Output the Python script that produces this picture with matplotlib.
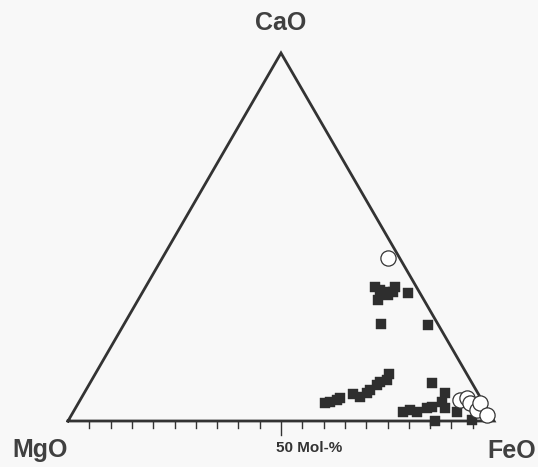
import numpy as np
import matplotlib
matplotlib.use("Agg")
import matplotlib.pyplot as plt

# mol-% values (CaO, FeO); MgO is the rest
sq_cao = [36.4, 35.6, 35.1, 32.9, 34.2, 36.4, 35.1, 34.8, 26.4, 26.1,
          4.9, 5.2, 5.7, 6.3, 7.3, 6.5, 7.6, 8.4, 9.8, 10.6, 11.1, 12.8,
          10.3, 2.4, 3.0, 2.4, 3.5, 3.8, 5.2, 7.6, 3.5, 0.0, 2.4, 0.3]
sq_feo = [53.9, 55.4, 56.9, 56.4, 58.0, 58.6, 58.8, 62.4, 60.3, 71.5,
          57.9, 58.9, 60.2, 60.7, 63.2, 65.2, 66.4, 66.7, 67.6, 67.9, 69.3, 69.0,
          80.2, 77.4, 78.8, 80.7, 82.5, 83.5, 85.2, 84.7, 86.7, 86.2, 90.1, 94.7]

ci_cao = [44.3, 5.7, 6.3, 4.9, 3.0, 4.9, 1.6]
ci_feo = [53.0, 89.1, 90.6, 92.0, 94.5, 94.3, 97.6]

corner_labels = ["MgO", "FeO", "CaO"]
tick_vals = np.arange(5, 100, 5)

H = np.sqrt(3) / 2


def to_xy(cao, feo):
    cao = np.asarray(cao)
    feo = np.asarray(feo)
    return feo + cao / 2, cao * H


fig = plt.figure(figsize=(5.38, 4.67), dpi=100)
fig.patch.set_facecolor("#f8f8f8")
ax = fig.add_axes([68 / 538, 46 / 467, 426 / 538, 368 / 467])
ax.set_xlim(0, 100)
ax.set_ylim(0, 100 * H)
ax.axis("off")

col = "#333333"
# triangle
tx, ty = to_xy([0, 0, 100, 0], [0, 100, 0, 0])
ax.plot(tx, ty, color=col, lw=2.0, solid_joinstyle="miter", clip_on=False)

# ticks on the MgO-FeO base
for t in tick_vals:
    ln = 3.3 if t == 50 else 1.6
    ax.plot([t, t], [0, -ln], color=col, lw=1.0, clip_on=False)

x, y = to_xy(sq_cao, sq_feo)
ax.scatter(x, y, marker="s", s=58, color="#2e2e2e", edgecolors="#2e2e2e",
           linewidths=0.3, zorder=3, clip_on=False)
x, y = to_xy(ci_cao, ci_feo)
ax.scatter(x, y, marker="o", s=120, facecolors="white", edgecolors="#333333",
           linewidths=0.9, zorder=4, clip_on=False)

fnt = dict(family="Liberation Sans", fontsize=18, fontweight="bold", color="#404040")
ax.text(-6.6, -6.8, corner_labels[0], ha="center", va="center", **fnt)
ax.text(104.2, -7.0, corner_labels[1], ha="center", va="center", **fnt)
ax.text(50, 93.6, corner_labels[2], ha="center", va="center", **fnt)
ax.text(56.5, -6.4, "50 Mol-%", ha="center", va="center",
        family="Liberation Sans", fontsize=11, fontweight="bold", color=col)

fig.savefig("out.png", dpi=100, facecolor=fig.get_facecolor())
